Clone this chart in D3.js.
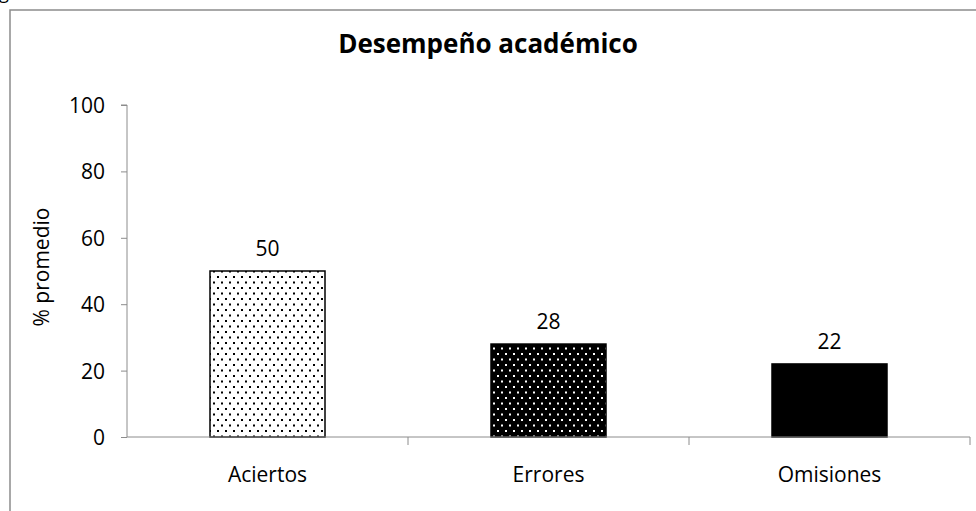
<!DOCTYPE html>
<html>
<head>
<meta charset="utf-8">
<script src="https://cdn.jsdelivr.net/npm/d3@7/dist/d3.min.js"></script>
<style>
  body { margin: 0; background: #fff; }
  text { font-family: "Open Sans", "Noto Sans", sans-serif; fill: #000; }
</style>
</head>
<body>
<div id="chart"></div>
<script>
var categories = ["Aciertos", "Errores", "Omisiones"];
var values = [50, 28, 22];
var fills = ["url(#dotsLight)", "url(#dotsDark)", "#000"];
var yTicks = [0, 20, 40, 60, 80, 100];

var width = 976, height = 511;
var plotLeft = 127, plotRight = 970, plotTop = 105, plotBottom = 437;

var svg = d3.select("#chart").append("svg")
  .attr("width", width).attr("height", height);

// dotted fills, staggered rows
var defs = svg.append("defs");
function dots(id, bg, fg) {
  var p = defs.append("pattern").attr("id", id)
    .attr("patternUnits", "userSpaceOnUse")
    .attr("width", 8).attr("height", 11);
  p.append("rect").attr("width", 8).attr("height", 11).attr("fill", bg);
  p.append("rect").attr("x", 1).attr("y", 1).attr("width", 2).attr("height", 2).attr("fill", fg);
  p.append("rect").attr("x", 5).attr("y", 6.5).attr("width", 2).attr("height", 2).attr("fill", fg);
}
dots("dotsLight", "#fff", "#000");
dots("dotsDark", "#000", "#fff");

// leftover glyph from the caption above the frame
svg.append("text").attr("x", -1).attr("y", -1).style("font-size", "18px").text("g");

// outer frame
svg.append("rect").attr("x", 10).attr("y", 10)
  .attr("width", 1000).attr("height", 600)
  .attr("fill", "none").attr("stroke", "#8c8c8c").attr("stroke-width", 1.5);

var x = d3.scaleBand().domain(categories).range([plotLeft, plotRight]);
var y = d3.scaleLinear().domain([0, 100]).range([plotBottom, plotTop]);

// y axis
var yAxis = svg.append("g").attr("transform", "translate(" + plotLeft + ",0)")
  .call(d3.axisLeft(y).tickValues(yTicks).tickSize(6).tickPadding(16));
yAxis.select(".domain").attr("stroke", "#8c8c8c").attr("d", "M-6," + plotTop + "H0V" + plotBottom);
yAxis.selectAll(".tick line").attr("stroke", "#8c8c8c");
yAxis.selectAll(".tick text").style("font-size", "21px").style("font-family", "Open Sans").attr("dy", "0.36em");

// bars
var barW = 115;
svg.selectAll("rect.bar").data(values).enter().append("rect")
  .attr("class", "bar")
  .attr("x", function(d, i) { return x(categories[i]) + x.bandwidth() / 2 - barW / 2; })
  .attr("y", function(d) { return y(d); })
  .attr("width", barW)
  .attr("height", function(d) { return y(0) - y(d); })
  .attr("fill", function(d, i) { return fills[i]; })
  .attr("stroke", "#000").attr("stroke-width", 1.5);

// x axis
var xAxis = svg.append("g").attr("transform", "translate(0," + plotBottom + ")")
  .call(d3.axisBottom(x).tickSize(0).tickPadding(30));
xAxis.select(".domain").attr("stroke", "#8c8c8c")
  .attr("d", "M" + plotLeft + ",0H" + plotRight + "V8");
xAxis.selectAll(".tick text").style("font-size", "21px").style("font-family", "Open Sans");
xAxis.append("g").selectAll("line").data(categories.slice(1)).enter().append("line")
  .attr("x1", function(d) { return x(d); }).attr("x2", function(d) { return x(d); })
  .attr("y1", 0).attr("y2", 8).attr("stroke", "#8c8c8c");

// value labels
svg.selectAll("text.val").data(values).enter().append("text")
  .attr("class", "val")
  .attr("x", function(d, i) { return x(categories[i]) + x.bandwidth() / 2; })
  .attr("y", function(d) { return y(d) - 15; })
  .attr("text-anchor", "middle").style("font-size", "21px")
  .text(function(d) { return d; });

// title
svg.append("text").attr("x", 488).attr("y", 53).attr("text-anchor", "middle")
  .style("font-size", "26px").style("font-weight", "bold")
  .text("Desempeño académico");

// y label
svg.append("text")
  .attr("transform", "translate(49,267) rotate(-90)")
  .attr("text-anchor", "middle").style("font-size", "21px")
  .text("% promedio");
</script>
</body>
</html>
